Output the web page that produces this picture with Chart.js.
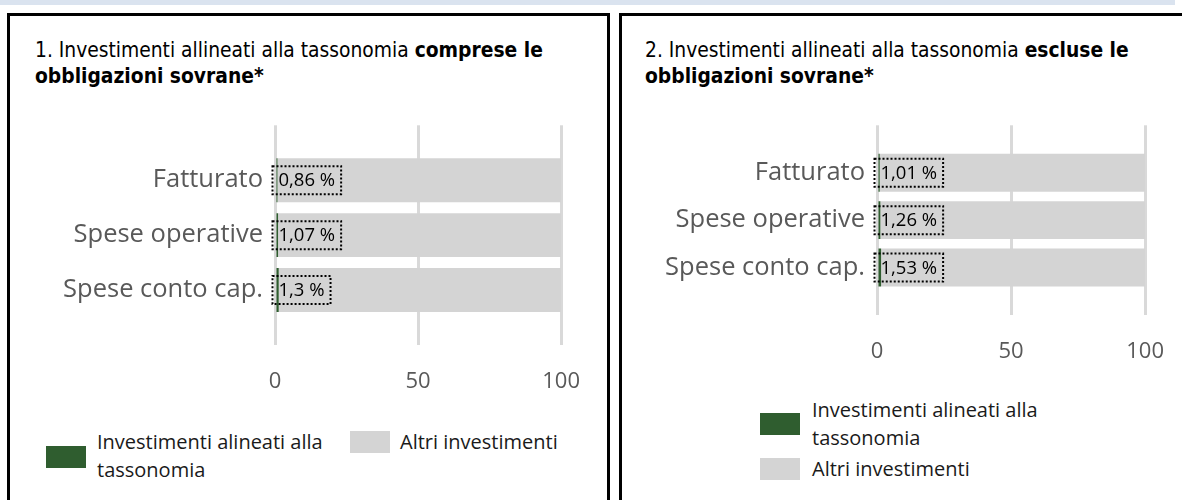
<!DOCTYPE html>
<html>
<head>
<meta charset="utf-8">
<script src="https://cdn.jsdelivr.net/npm/chart.js@4"></script>
<style>
    html, body { margin: 0; padding: 0; background: #fff; overflow: hidden; }
    body { width: 1182px; height: 500px; position: relative; }
    .strip { position: absolute; left: 0; top: 0; width: 1175px; height: 5px; background: #dae3ef; }
    .panel { position: absolute; top: 13px; height: 520px; border: 3px solid #000; box-sizing: border-box; }
    .title {
        position: absolute; font-family: "DejaVu Sans Condensed", "DejaVu Sans", sans-serif;
        font-stretch: condensed; font-size: 20.8px; line-height: 26px; color: #000; white-space: nowrap;
    }
    .chart-box { position: absolute; }
    .legend { position: absolute; font-family: "Segoe UI", "Open Sans", sans-serif; font-size: 20px; line-height: 28px; color: #1a1a1a; }
    .legend .swatch { position: absolute; width: 40px; height: 22px; }
    .legend .text { position: absolute; white-space: nowrap; }
</style>
</head>
<body>
<div class="strip"></div>
<div class="panel" style="left: 7px; width: 603px;"></div>
<div class="panel" style="left: 619px; width: 580px;"></div>

<div class="title" style="left: 35px; top: 37px;">1. Investimenti allineati alla tassonomia <b>comprese le</b><br><b>obbligazioni sovrane*</b></div>
<div class="title" style="left: 645px; top: 37px;">2. Investimenti allineati alla tassonomia <b>escluse le</b><br><b>obbligazioni sovrane*</b></div>

<div class="chart-box" style="left: 20px; top: 98px; width: 584px; height: 297px;"><canvas id="chartWith"></canvas></div>
<div class="chart-box" style="left: 625px; top: 98px; width: 563px; height: 267px;"><canvas id="chartWithout"></canvas></div>

<div class="legend" id="legendWith" style="left: 0; top: 0;"></div>
<div class="legend" id="legendWithout" style="left: 0; top: 0;"></div>

<script>
// Data
const categories = ['Fatturato', 'Spese operative', 'Spese conto cap.'];
const seriesNames = ['Investimenti alineati alla tassonomia', 'Altri investimenti'];
const alignedWithSovereign = [0.86, 1.07, 1.3];
const otherWithSovereign = [99.14, 98.93, 98.7];
const alignedExclSovereign = [1.01, 1.26, 1.53];
const otherExclSovereign = [98.99, 98.74, 98.47];
const xTicks = [0, 50, 100];

const GREEN = '#2f5d2f';
const GREY = '#d4d4d4';
const LABEL_GREY = '#595959';
const CAT_FONT = '"Segoe UI", "Open Sans", sans-serif';

// Format value like "0,86 %"
const formatPct = (v) => String(v).replace('.', ',') + ' %';

// Turn a value list into bar points, one per category row
const toPoints = (values) => values.map((v, i) => ({ x: v, y: i + 1 }));

// Dotted box labels on the taxonomy-aligned bars
const boxLabels = {
    id: 'boxLabels',
    afterDatasetsDraw(chart) {
        const ctx = chart.ctx;
        const meta = chart.getDatasetMeta(0);
        const values = chart.data.datasets[0].data;
        ctx.save();
        ctx.font = '18.5px ' + CAT_FONT;
        meta.data.forEach((bar, i) => {
            const txt = formatPct(values[i].x);
            const w = ctx.measureText(txt).width + 12;
            const h = 28;
            const x = bar.base - 4;
            const y = bar.y - h / 2;
            ctx.setLineDash([2, 2]);
            ctx.lineWidth = 2;
            ctx.strokeStyle = '#000';
            ctx.strokeRect(x, y, w, h);
            ctx.setLineDash([]);
            ctx.fillStyle = '#000';
            ctx.textBaseline = 'middle';
            ctx.textAlign = 'left';
            ctx.fillText(txt, x + 6, bar.y + 1);
        });
        ctx.restore();
    }
};

function createChart(id, aligned, other, yWidth) {
    const ctx = document.getElementById(id).getContext('2d');
    return new Chart(ctx, {
        type: 'bar',
        data: {
            datasets: [
                { label: seriesNames[0], data: toPoints(aligned), backgroundColor: GREEN, borderWidth: 0 },
                { label: seriesNames[1], data: toPoints(other), backgroundColor: GREY, borderWidth: 0 }
            ]
        },
        options: {
            indexAxis: 'y',
            responsive: true,
            maintainAspectRatio: false,
            animation: false,
            categoryPercentage: 0.8,
            barPercentage: 1,
            layout: { padding: 0 },
            plugins: { legend: { display: false }, tooltip: { enabled: false } },
            scales: {
                x: {
                    stacked: true,
                    min: 0,
                    max: 100,
                    afterBuildTicks: (scale) => { scale.ticks = xTicks.map(v => ({ value: v })); },
                    grid: { color: '#d9d9d9', lineWidth: 3, drawTicks: false },
                    border: { display: false },
                    ticks: { color: LABEL_GREY, font: { family: CAT_FONT, size: 22 }, padding: 24 },
                    afterFit: (scale) => { scale.height = 50; }
                },
                y: {
                    type: 'linear',
                    offset: false,
                    stacked: true,
                    reverse: true,
                    min: 0,
                    max: 4,
                    grid: { display: false, drawTicks: false, offset: false },
                    border: { display: false },
                    ticks: {
                        stepSize: 1,
                        color: LABEL_GREY,
                        font: { family: CAT_FONT, size: 25.5 },
                        padding: 12,
                        callback: (v) => categories[v - 1] || ''
                    },
                    afterFit: (scale) => { scale.width = yWidth; }
                }
            }
        },
        plugins: [boxLabels]
    });
}

// HTML legend, positions per panel
function renderLegend(id, items) {
    const el = document.getElementById(id);
    const colors = [GREEN, GREY];
    items.forEach((it, i) => {
        const sw = document.createElement('div');
        sw.className = 'swatch';
        sw.style.cssText = `left:${it.sx}px;top:${it.sy}px;background:${colors[i]};`;
        el.appendChild(sw);
        const tx = document.createElement('div');
        tx.className = 'text';
        tx.style.cssText = `left:${it.tx}px;top:${it.ty}px;`;
        tx.innerHTML = it.lines.join('<br>');
        el.appendChild(tx);
    });
}

createChart('chartWith', alignedWithSovereign, otherWithSovereign, 255);
createChart('chartWithout', alignedExclSovereign, otherExclSovereign, 252);

renderLegend('legendWith', [
    { sx: 46, sy: 446, tx: 97, ty: 428, lines: ['Investimenti alineati alla', 'tassonomia'] },
    { sx: 350, sy: 431, tx: 400, ty: 428, lines: [seriesNames[1]] }
]);
renderLegend('legendWithout', [
    { sx: 760, sy: 413, tx: 812, ty: 396, lines: ['Investimenti alineati alla', 'tassonomia'] },
    { sx: 760, sy: 458, tx: 812, ty: 455, lines: [seriesNames[1]] }
]);
</script>
</body>
</html>
